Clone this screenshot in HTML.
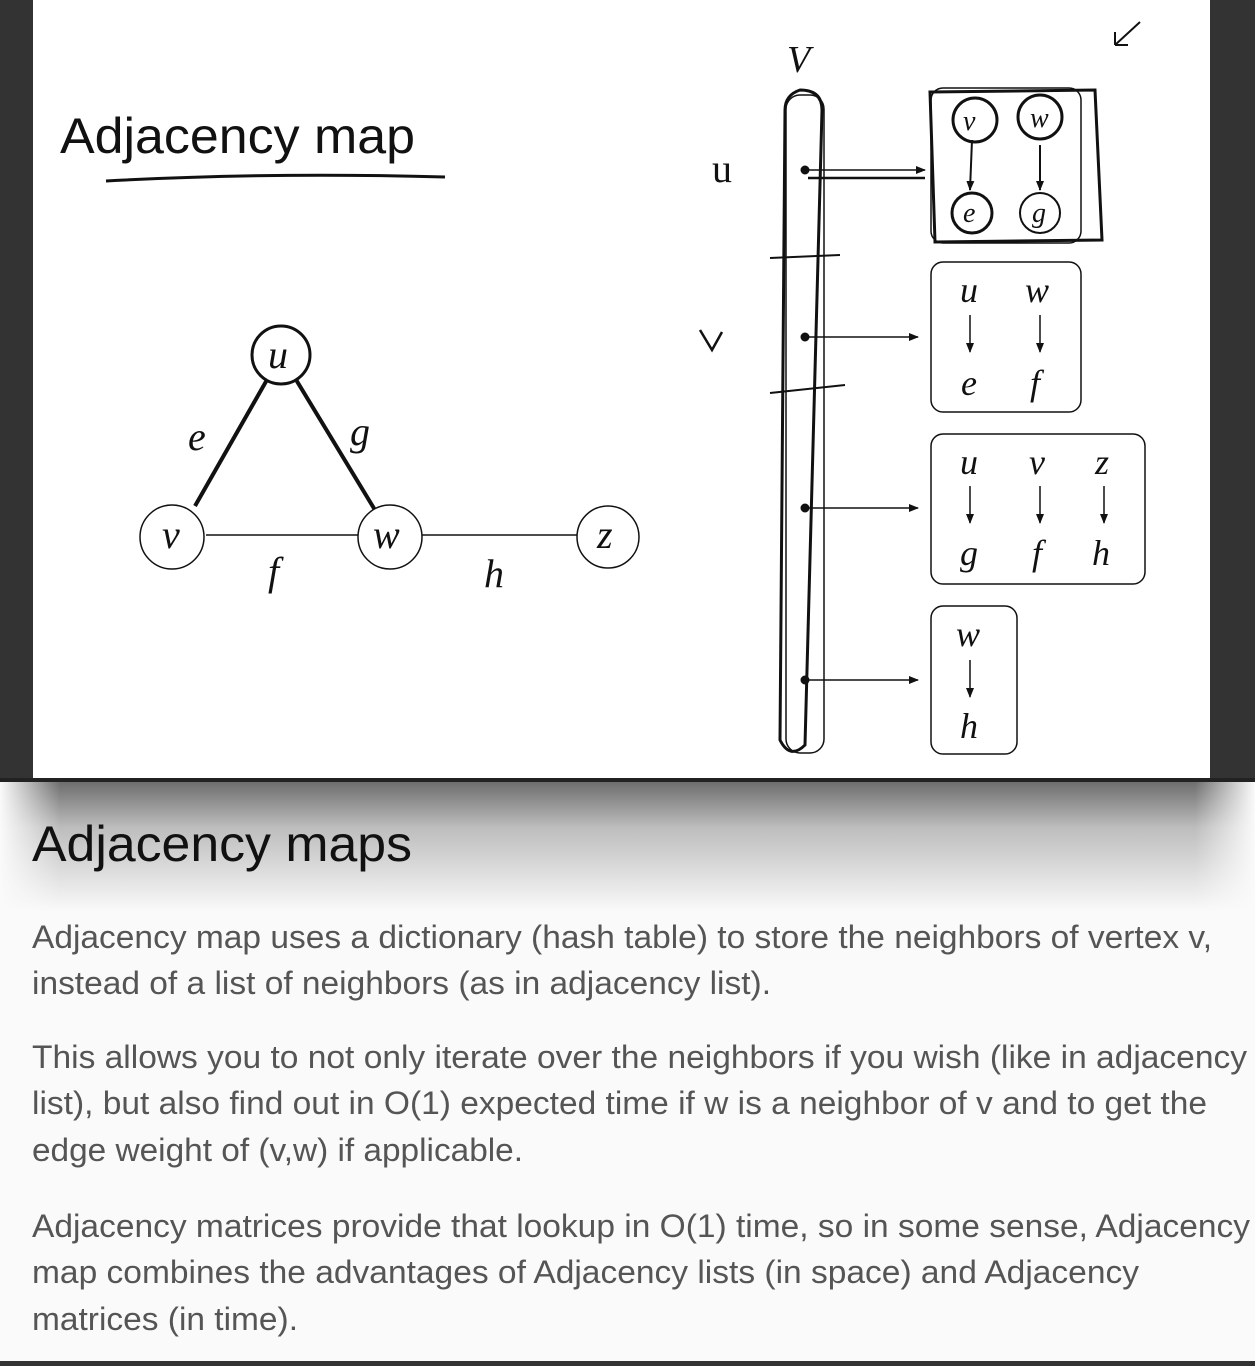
<!DOCTYPE html>
<html><head><meta charset="utf-8"><style>
html,body{margin:0;padding:0;background:#fff}
body{width:1255px;height:1366px;overflow:hidden;position:relative;font-family:"Liberation Sans",sans-serif}
</style></head><body>
<svg width="1255" height="1366" viewBox="0 0 1255 1366" xmlns="http://www.w3.org/2000/svg" style="position:absolute;left:0;top:0">
<defs>
<linearGradient id="sh" x1="0" y1="0" x2="0" y2="1">
<stop offset="0" stop-color="#6e6e6e"/><stop offset="0.35" stop-color="#bdbdbd"/><stop offset="1" stop-color="#fafafa"/>
</linearGradient>
<linearGradient id="shl" x1="0" y1="0" x2="1" y2="0">
<stop offset="0" stop-color="#fafafa" stop-opacity="1"/><stop offset="1" stop-color="#fafafa" stop-opacity="0"/>
</linearGradient>
<linearGradient id="shr" x1="1" y1="0" x2="0" y2="0">
<stop offset="0" stop-color="#fafafa" stop-opacity="1"/><stop offset="1" stop-color="#fafafa" stop-opacity="0"/>
</linearGradient>
<marker id="ar" markerWidth="10" markerHeight="8" refX="9" refY="4" orient="auto" markerUnits="userSpaceOnUse"><path d="M0,0 L10,4 L0,8 z" fill="#111"/></marker>
</defs>
<rect x="0" y="780" width="1255" height="586" fill="#fafafa"/>
<rect x="0" y="782" width="1255" height="130" fill="url(#sh)"/>
<rect x="0" y="782" width="60" height="130" fill="url(#shl)"/>
<rect x="1195" y="782" width="60" height="130" fill="url(#shr)"/>
<rect x="0" y="0" width="33" height="780" fill="#333"/>
<rect x="1210" y="0" width="45" height="780" fill="#333"/>
<rect x="0" y="778" width="1255" height="4" fill="#222"/>
<rect x="0" y="1361" width="1255" height="5" fill="#333"/>

<g fill="none" stroke="#111">
<text x="60" y="153" font-size="50" textLength="355" lengthAdjust="spacingAndGlyphs" fill="#111" stroke="none">Adjacency map</text>
<path d="M106 181 Q270 172 445 177" stroke-width="3"/>
<line x1="195" y1="506" x2="268" y2="378" stroke-width="4"/>
<line x1="295" y1="378" x2="375" y2="510" stroke-width="4"/>
<line x1="206" y1="535" x2="360" y2="535" stroke-width="1.5"/>
<line x1="420" y1="535" x2="578" y2="535" stroke-width="1.5"/>
<circle cx="281" cy="355" r="29" stroke-width="3" fill="#fff"/>
<circle cx="172" cy="537" r="32" stroke-width="1.5" fill="#fff"/>
<circle cx="390" cy="537" r="32" stroke-width="1.5" fill="#fff"/>
<circle cx="608" cy="537" r="31" stroke-width="1.5" fill="#fff"/>
</g>
<g font-family="Liberation Serif,serif" font-style="italic" fill="#111" font-size="40">
<text x="268" y="368">u</text><text x="162" y="548">v</text><text x="373" y="548">w</text><text x="597" y="548">z</text>
<text x="188" y="450">e</text><text x="350" y="445">g</text><text x="268" y="585">f</text><text x="484" y="587">h</text>
<text x="787" y="72" font-size="38">V</text>
</g>
<g fill="none" stroke="#111">
<text x="712" y="182" font-size="40" fill="#111" stroke="none" font-family="Liberation Serif,serif">u</text>
<path d="M700 330 L712 350 L722 332" stroke-width="2.5"/>
<path d="M1115 45 L1140 22 M1115 45 L1115 32 M1115 45 L1128 45" stroke-width="2"/>
<path d="M800 90 Q785 95 785 110 L780 740 Q790 760 805 745 L822 110 Q822 90 800 90 Z" stroke-width="3"/>
<rect x="786" y="95" width="38" height="658" rx="14" stroke-width="1.5"/>
<path d="M770 258 L840 255 M770 393 L845 385" stroke-width="2"/>
<line x1="805" y1="170" x2="925" y2="170" stroke-width="1.5" marker-end="url(#ar)"/>
<path d="M808 178 L925 178" stroke-width="2.5"/>
<line x1="805" y1="337" x2="918" y2="337" stroke-width="1.5" marker-end="url(#ar)"/>
<line x1="805" y1="508" x2="918" y2="508" stroke-width="1.5" marker-end="url(#ar)"/>
<line x1="805" y1="680" x2="918" y2="680" stroke-width="1.5" marker-end="url(#ar)"/>
<circle cx="805" cy="170" r="4" fill="#111"/><circle cx="805" cy="337" r="4" fill="#111"/><circle cx="805" cy="508" r="4" fill="#111"/><circle cx="805" cy="680" r="4" fill="#111"/>
<rect x="931" y="88" width="150" height="155" rx="12" stroke-width="1.5"/>
<path d="M930 92 L1095 90 L1102 240 L935 242 Z" stroke-width="3"/>
<circle cx="975" cy="120" r="22" stroke-width="3"/><circle cx="1040" cy="117" r="22" stroke-width="3"/>
<circle cx="972" cy="213" r="20" stroke-width="3"/><circle cx="1040" cy="213" r="20" stroke-width="2"/>
<line x1="972" y1="140" x2="970" y2="190" stroke-width="2" marker-end="url(#ar)"/>
<line x1="1040" y1="145" x2="1040" y2="190" stroke-width="2" marker-end="url(#ar)"/>
<rect x="931" y="262" width="150" height="150" rx="12" stroke-width="1.5"/>
<rect x="931" y="434" width="214" height="150" rx="12" stroke-width="1.5"/>
<rect x="931" y="606" width="86" height="148" rx="12" stroke-width="1.5"/>
<g stroke-width="1.5">
<line x1="970" y1="315" x2="970" y2="352" marker-end="url(#ar)"/>
<line x1="1040" y1="315" x2="1040" y2="352" marker-end="url(#ar)"/>
<line x1="970" y1="486" x2="970" y2="523" marker-end="url(#ar)"/>
<line x1="1040" y1="486" x2="1040" y2="523" marker-end="url(#ar)"/>
<line x1="1104" y1="486" x2="1104" y2="523" marker-end="url(#ar)"/>
<line x1="970" y1="660" x2="970" y2="697" marker-end="url(#ar)"/>
</g>
</g>
<g font-family="Liberation Serif,serif" font-style="italic" fill="#111" font-size="36">
<text x="963" y="130" font-size="28">v</text><text x="1030" y="127" font-size="28">w</text>
<text x="963" y="222" font-size="28">e</text><text x="1032" y="222" font-size="28">g</text>
<text x="960" y="302">u</text><text x="1025" y="302">w</text>
<text x="961" y="395">e</text><text x="1030" y="395">f</text>
<text x="960" y="474">u</text><text x="1029" y="474">v</text><text x="1095" y="474">z</text>
<text x="960" y="565">g</text><text x="1032" y="565">f</text><text x="1092" y="565">h</text>
<text x="956" y="646">w</text><text x="960" y="738">h</text>
</g>
<text x="32" y="861" font-size="50" textLength="380" lengthAdjust="spacingAndGlyphs" fill="#111">Adjacency maps</text>
<g fill="#555" font-size="32" lengthAdjust="spacingAndGlyphs">
<text x="32" y="948" textLength="1180" lengthAdjust="spacingAndGlyphs">Adjacency map uses a dictionary (hash table) to store the neighbors of vertex v,</text>
<text x="32" y="994" textLength="739" lengthAdjust="spacingAndGlyphs">instead of a list of neighbors (as in adjacency list).</text>
<text x="32" y="1068" textLength="1215" lengthAdjust="spacingAndGlyphs">This allows you to not only iterate over the neighbors if you wish (like in adjacency</text>
<text x="32" y="1114" textLength="1175" lengthAdjust="spacingAndGlyphs">list), but also find out in O(1) expected time if w is a neighbor of v and to get the</text>
<text x="32" y="1161" textLength="491" lengthAdjust="spacingAndGlyphs">edge weight of (v,w) if applicable.</text>
<text x="32" y="1237" textLength="1218" lengthAdjust="spacingAndGlyphs">Adjacency matrices provide that lookup in O(1) time, so in some sense, Adjacency</text>
<text x="32" y="1283" textLength="1107" lengthAdjust="spacingAndGlyphs">map combines the advantages of Adjacency lists (in space) and Adjacency</text>
<text x="32" y="1330" textLength="266" lengthAdjust="spacingAndGlyphs">matrices (in time).</text>
</g>
</svg>
</body></html>
